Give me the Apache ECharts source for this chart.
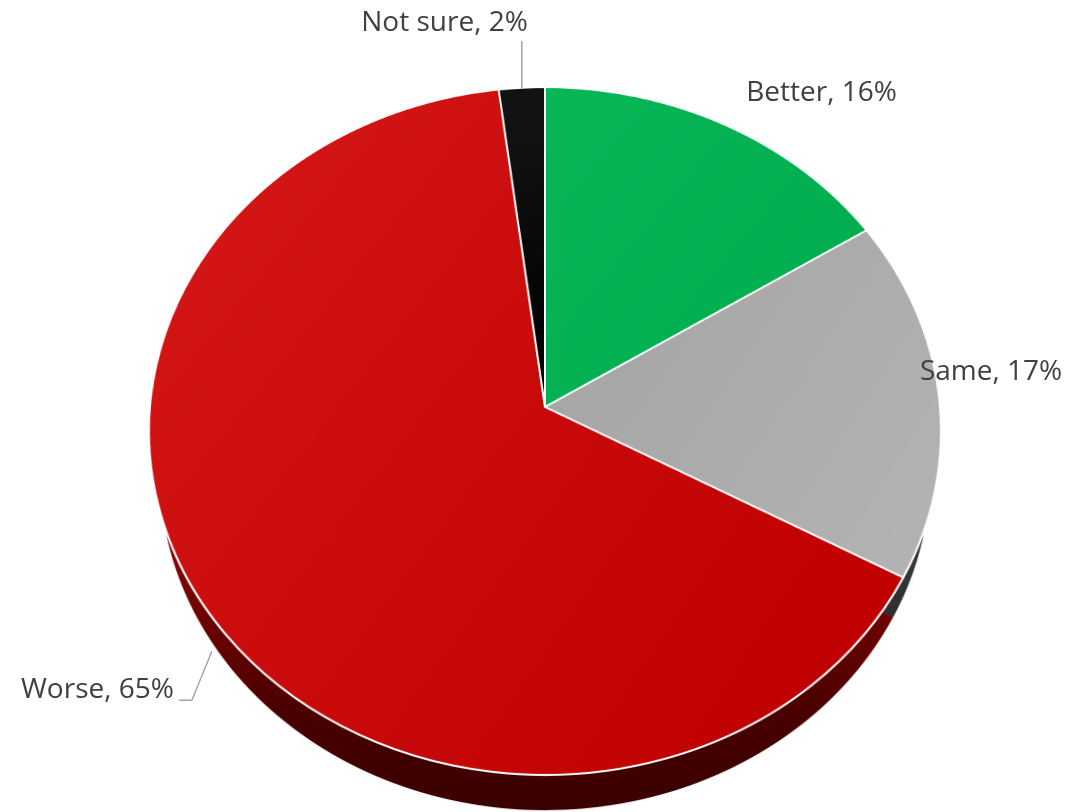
<!DOCTYPE html>
<html><head><meta charset="utf-8">
<script src="https://cdn.jsdelivr.net/npm/echarts@6/dist/echarts.min.js"></script>
<style>
html,body{margin:0;padding:0;background:#fff;overflow:hidden;width:1085px;height:812px;}
#pie{position:absolute;left:0;top:0;width:1085px;height:880px;transform-origin:545px 407px;transform:perspective(2813px) rotateX(30deg);}
#labels{position:absolute;left:0;top:0;width:1085px;height:812px;}
</style></head><body>
<div id="pie"></div><div id="labels"></div>
<script>
// ---- data ----
const categories = ['Better', 'Same', 'Worse', 'Not sure'];
const values = [16, 17, 65, 2];

// ---- layout / style ----
const CX = 545, CY = 407, R = 395;
const SIDE_R = 381, SIDE_SHIFT = 49;
const TILT = 30, PERSP = 2813;
const topColors = [
  ['#09b656', '#00ad4e'],
  ['#a4a4a4', '#b3b3b3'],
  ['#d31616', '#c00000'],
  ['#121212', '#020202']
];
const sideColors = [
  [[0, '#007a36'], [1, '#00401c']],
  [[0, '#555555'], [0.6, '#474747'], [1, '#2e2e2e']],
  [[0, '#a00c0c'], [0.58, '#940707'], [0.74, '#6e0202'], [0.88, '#470000'], [1, '#3a0000']],
  [[0, '#000000'], [1, '#000000']]
];
// label offsets relative to the projected slice edge at its mid angle
const labelOff = [
  {dx: 22, dy: -32, align: 'left'},
  {dx: -19, dy: -24, align: 'left'},
  {dx: -31, dy: 83, align: 'right'},
  {dx: 6, dy: -65, align: 'right'}
];

const total = values.reduce((a, b) => a + b, 0);
function midAngle(i) {
  let c = 0;
  for (let k = 0; k < i; k++) c += values[k];
  return (c + values[i] / 2) / total * 360;
}
function proj(angleDeg, r) {
  const a = angleDeg * Math.PI / 180;
  const px = r * Math.sin(a), py = -r * Math.cos(a);
  const t = TILT * Math.PI / 180;
  const y1 = py * Math.cos(t), z = py * Math.sin(t);
  const s = PERSP / (PERSP - z);
  return [CX + px * s, CY + y1 * s];
}

const LG = echarts.graphic.LinearGradient;
const pieChart = echarts.init(document.getElementById('pie'), null, {devicePixelRatio: 2});
pieChart.setOption({
  animation: false,
  series: [
    {
      type: 'pie', center: [CX, CY + SIDE_SHIFT], radius: [0, SIDE_R], startAngle: 90, clockwise: true,
      silent: true, label: {show: false}, labelLine: {show: false}, z: 1,
      itemStyle: {borderWidth: 0},
      data: categories.map((n, i) => ({
        name: n, value: values[i],
        itemStyle: {color: new LG(0, 0, 0, 1, sideColors[i].map(s => ({offset: s[0], color: s[1]})))}
      }))
    },
    {
      type: 'pie', center: [CX, CY], radius: [0, R], startAngle: 90, clockwise: true,
      silent: true, label: {show: false}, labelLine: {show: false}, z: 2,
      itemStyle: {borderColor: '#ffffff', borderWidth: 2},
      data: categories.map((n, i) => ({
        name: n, value: values[i],
        itemStyle: {color: new LG(0, 0.2, 1, 0.8, [{offset: 0, color: topColors[i][0]}, {offset: 1, color: topColors[i][1]}])}
      }))
    }
  ]
});

const labelChart = echarts.init(document.getElementById('labels'));
labelChart.setOption({
  animation: false,
  series: [{
    type: 'pie', center: [CX, CY], radius: [0, R], startAngle: 90, clockwise: true,
    silent: true, avoidLabelOverlap: false,
    itemStyle: {color: 'rgba(0,0,0,0)', borderWidth: 0},
    label: {
      show: true, position: 'outside', formatter: '{b}, {c}%',
      fontFamily: 'Open Sans', fontSize: 28, color: '#404040'
    },
    labelLine: {show: true, lineStyle: {color: '#a6a6a6', width: 1.5}},
    data: categories.map((n, i) => ({
      name: n, value: values[i],
      labelLine: {show: n === 'Worse' || n === 'Not sure'}
    })),
    labelLayout: function (p) {
      const i = p.dataIndex;
      const e = proj(midAngle(i), R);
      const o = labelOff[i];
      const res = {x: e[0] + o.dx, y: e[1] + o.dy, align: o.align, verticalAlign: 'middle'};
      if (categories[i] === 'Not sure') {
        res.labelLinePoints = [[e[0], e[1]], [e[0], e[1] - 47], [e[0], e[1] - 47]];
      } else if (categories[i] === 'Worse') {
        res.labelLinePoints = [[e[0] + 7, e[1] + 44], [e[0] - 13, e[1] + 93], [e[0] - 26, e[1] + 93]];
      }
      return res;
    }
  }]
});
</script>
</body></html>
